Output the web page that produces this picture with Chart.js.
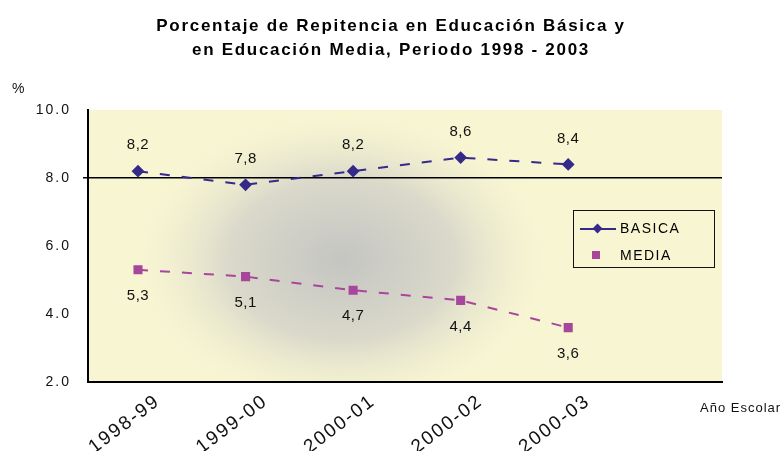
<!DOCTYPE html>
<html>
<head>
<meta charset="utf-8">
<script src="https://cdn.jsdelivr.net/npm/chart.js@4.4.1/dist/chart.umd.min.js"></script>
<style>
  body { margin: 0; background: #fff; }
  #wrap { position: relative; width: 782px; height: 451px; font-family: "Liberation Sans", Arial, sans-serif; }
  .txt { position: absolute; color: #111; letter-spacing: 1px; }
  #titulo { position: absolute; left: 0; width: 782px; top: 14px; text-align: center; font-weight: bold; font-size: 17px; line-height: 24px; letter-spacing: 1.7px; color: #000; }
  #legend { position: absolute; left: 573px; top: 210px; width: 142px; height: 58px; border: 1.5px solid #111; box-sizing: border-box; }
  .row { position: absolute; left: 0; height: 20px; font-size: 14px; letter-spacing: 1.5px; }
  .row span.lab { position: absolute; left: 46px; top: 1px; }
  .mk { position: absolute; }
</style>
</head>
<body>
<div id="wrap">
  <canvas id="repChart" width="782" height="451"></canvas>
  <div id="titulo">Porcentaje de Repitencia en Educación Básica y<br>en Educación Media, Periodo 1998 - 2003</div>
  <div class="txt" style="left:12px; top:80px; font-size:14px;">%</div>
  <div class="txt" style="left:700px; top:400px; font-size:13px;">Año Escolar</div>
  <div id="legend"></div>
</div>
<script>
// datos del grafico
const categorias = ["1998-99", "1999-00", "2000-01", "2000-02", "2000-03"];
const basica = [8.2, 7.8, 8.2, 8.6, 8.4];
const media = [5.3, 5.1, 4.7, 4.4, 3.6];
const ticksY = [2, 4, 6, 8, 10];
const nombres = ["BASICA", "MEDIA"];
const colores = ["#35298a", "#a8469c"];

const espaciado = {
  id: "espaciado",
  beforeLayout(chart) { chart.ctx.letterSpacing = "2px"; },
  beforeDraw(chart) { chart.ctx.letterSpacing = "2px"; }
};

// fondo amarillo con sombra gris
const fondo = {
  id: "fondo",
  beforeDraw(chart) {
    const { ctx, chartArea: a } = chart;
    ctx.save();
    ctx.fillStyle = "#f8f6d2";
    ctx.fillRect(a.left, a.top, a.right - a.left, a.bottom - a.top);
    const cx = a.left + (a.right - a.left) * 0.4;
    const cy = a.top + (a.bottom - a.top) * 0.55;
    ctx.beginPath();
    ctx.rect(a.left, a.top, a.right - a.left, a.bottom - a.top);
    ctx.clip();
    ctx.translate(cx, cy);
    ctx.scale(1.4, 1);
    const g = ctx.createRadialGradient(0, 0, 0, 0, 0, 160);
    g.addColorStop(0, "rgba(196,196,194,1)");
    g.addColorStop(0.5, "rgba(210,209,200,0.8)");
    g.addColorStop(1, "rgba(248,246,210,0)");
    ctx.fillStyle = g;
    ctx.fillRect(-300, -250, 600, 500);
    ctx.restore();
  }
};

// etiquetas de valores
const etiquetas = {
  id: "etiquetas",
  afterDatasetsDraw(chart) {
    const ctx = chart.ctx;
    ctx.save();
    ctx.letterSpacing = "0.5px";
    ctx.font = "15px 'Liberation Sans', Arial";
    ctx.fillStyle = "#111";
    ctx.textAlign = "center";
    ctx.textBaseline = "middle";
    chart.data.datasets.forEach((ds, i) => {
      chart.getDatasetMeta(i).data.forEach((p, j) => {
        const off = i === 0 ? -26 : 26;
        ctx.fillText(ds.data[j].y.toFixed(1).replace(".", ","), p.x, p.y + off);
      });
    });
    ctx.restore();
  }
};

const puntos = (vals) => vals.map((v, i) => ({ x: i, y: v }));

new Chart(document.getElementById("repChart"), {
  type: "line",
  data: {
    datasets: [
      {
        label: nombres[0],
        data: puntos(basica),
        borderColor: colores[0],
        backgroundColor: colores[0],
        borderWidth: 2,
        borderDash: [10, 12],
        pointStyle: "rectRot",
        pointRadius: 5,
      },
      {
        label: nombres[1],
        data: puntos(media),
        borderColor: colores[1],
        backgroundColor: colores[1],
        borderWidth: 2,
        borderDash: [10, 12],
        pointStyle: "rect",
        pointRadius: 5,
      },
    ],
  },
  options: {
    responsive: false,
    animation: false,
    layout: { padding: { left: 0, right: 60, top: 110, bottom: 0 } },
    plugins: {
      legend: { display: false },
      tooltip: { enabled: false },
      title: { display: false },
    },
    scales: {
      x: {
        type: "linear",
        min: -0.465,
        max: 5.43,
        afterBuildTicks: (s) => { s.ticks = categorias.map((c, i) => ({ value: i })); },
        afterFit: (s) => { s.height = 69; },
        grid: { display: false },
        border: { color: "#000", width: 2 },
        ticks: {
          autoSkip: false,
          minRotation: 37,
          maxRotation: 37,
          color: "#111",
          font: { family: "'Liberation Sans', Arial", size: 19 },
          padding: 0,
          labelOffset: 20,
          callback: (v) => categorias[v],
        },
      },
      y: {
        min: 2,
        max: 10,
        afterBuildTicks: (s) => { s.ticks = ticksY.map((v) => ({ value: v })); },
        afterFit: (s) => { s.width = 88; },
        grid: {
          color: (c) => (c.tick && c.tick.value === 8 ? "#000" : "transparent"),
          lineWidth: 1.5,
          tickLength: 5,
        },
        border: { color: "#000", width: 2 },
        ticks: {
          color: "#111",
          font: { family: "'Liberation Sans', Arial", size: 14 },
          padding: 12,
          callback: (v) => v.toFixed(1),
        },
      },
    },
  },
  plugins: [espaciado, fondo, etiquetas],
});

// leyenda dentro del area
const leyenda = document.getElementById("legend");
nombres.forEach((n, i) => {
  const fila = document.createElement("div");
  fila.className = "row";
  fila.style.top = (8 + i * 27) + "px";
  fila.style.width = "140px";
  let marca = "";
  if (i === 0) {
    marca = '<div class="mk" style="left:6px;top:9px;width:36px;height:2px;background:' + colores[0] + '"></div>' +
      '<div class="mk" style="left:20px;top:6px;width:7px;height:7px;background:' + colores[0] + ';transform:rotate(45deg)"></div>';
  } else {
    marca = '<div class="mk" style="left:18px;top:5px;width:8px;height:8px;background:' + colores[1] + '"></div>';
  }
  fila.innerHTML = marca + '<span class="lab">' + n + "</span>";
  leyenda.appendChild(fila);
});
</script>
</body>
</html>
